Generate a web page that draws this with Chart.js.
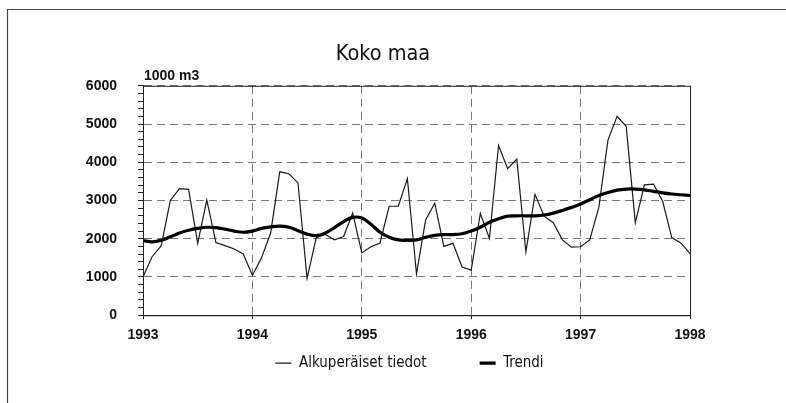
<!DOCTYPE html>
<html>
<head>
<meta charset="utf-8">
<script src="https://cdn.jsdelivr.net/npm/chart.js@4.4.1/dist/chart.umd.min.js"></script>
<style>
  html, body { margin: 0; padding: 0; background: #fff; }
  #wrap { width: 786px; height: 403px; }
</style>
</head>
<body>
<div id="wrap"><canvas id="chart" width="786" height="403"></canvas></div>
<script>
// monthly values, Jan 1993 .. Jan 1998 (1000 m3)
const startYear = 1993;
const endYear = 1998;
const original = [
  1000, 1530, 1820, 3000, 3310, 3290, 1880, 3010, 1900, 1820, 1730, 1600, // 1993
  1040, 1500, 2150, 3750, 3700, 3460, 960, 2030, 2110, 1970, 2060, 2670,   // 1994
  1630, 1790, 1890, 2850, 2850, 3570, 1080, 2490, 2930, 1800, 1880, 1260,  // 1995
  1180, 2660, 2010, 4440, 3830, 4080, 1660, 3160, 2590, 2420, 1970, 1780,  // 1996
  1790, 1970, 2820, 4580, 5200, 4940, 2420, 3410, 3430, 2980, 2030, 1890,  // 1997
  1610                                                                     // 1998
];
const trend = [
  1950, 1920, 1960, 2050, 2150, 2220, 2270, 2300, 2290, 2250, 2200, 2170,
  2200, 2270, 2310, 2330, 2300, 2210, 2120, 2080, 2150, 2290, 2450, 2560,
  2540, 2380, 2170, 2040, 1970, 1960, 1970, 2040, 2090, 2110, 2110, 2130,
  2200, 2300, 2430, 2520, 2590, 2600, 2600, 2600, 2620, 2670, 2740, 2820,
  2910, 3020, 3130, 3210, 3270, 3300, 3300, 3280, 3240, 3200, 3170, 3150,
  3130
];
const seriesNames = ['Alkuperäiset tiedot', 'Trendi'];
const chartTitle = 'Koko maa';
const unitLabel = '1000 m3';

const tickFont = "'Liberation Sans', Arial, sans-serif";
const condensed = "'DejaVu Sans Condensed', 'Liberation Sans', sans-serif";

const toPoints = arr => arr.map((v, i) => ({ x: startYear + i / 12, y: v }));

// outer frame + plot box + unit text
const decorations = {
  id: 'decorations',
  beforeDraw(chart) {
    const ctx = chart.ctx;
    ctx.save();
    ctx.strokeStyle = '#444';
    ctx.lineWidth = 1.2;
    ctx.beginPath();
    ctx.moveTo(7.5, chart.height);
    ctx.lineTo(7.5, 9.5);
    ctx.lineTo(chart.width, 9.5);
    ctx.stroke();
    ctx.restore();
  },
  afterDraw(chart) {
    const { ctx, chartArea: a } = chart;
    ctx.save();
    ctx.strokeStyle = '#222';
    ctx.lineWidth = 1;
    ctx.strokeRect(a.left + 0.5, a.top + 0.5, a.right - a.left, a.bottom - a.top);
    ctx.fillStyle = '#111';
    ctx.font = 'bold 14px ' + tickFont;
    ctx.textBaseline = 'alphabetic';
    ctx.fillText(unitLabel, a.left + 1, a.top - 6);
    ctx.restore();
  }
};

// pull the legend up next to the x axis labels
const legendLift = {
  id: 'legendLift',
  afterLayout(chart) {
    const l = chart.legend;
    const dy = (chart.chartArea.bottom - 12.5) - l.top;
    l.top += dy;
    l.bottom += dy;
    l.left -= 7;
    l.right -= 7;
  }
};

new Chart(document.getElementById('chart'), {
  type: 'line',
  data: {
    datasets: [
      {
        label: seriesNames[0],
        data: toPoints(original),
        borderColor: '#1a1a1a',
        backgroundColor: '#1a1a1a',
        borderWidth: 1.2,
        pointRadius: 0,
        pointStyle: 'line',
        tension: 0,
        order: 1
      },
      {
        label: seriesNames[1],
        data: toPoints(trend),
        borderColor: '#000',
        backgroundColor: '#000',
        borderWidth: 3.2,
        pointRadius: 0,
        pointStyle: 'line',
        tension: 0.4,
        order: 0
      }
    ]
  },
  options: {
    responsive: false,
    animation: false,
    layout: { padding: { left: 76, right: 96, top: 0, bottom: -27 } },
    scales: {
      x: {
        type: 'linear',
        min: startYear,
        max: endYear,
        ticks: {
          stepSize: 1,
          maxRotation: 0,
          padding: 8,
          color: '#111',
          font: { family: tickFont, size: 14, weight: 'bold' },
          callback: v => String(v)
        },
        grid: {
          color: '#777',
          tickColor: '#222',
          tickLength: 4,
          lineWidth: 1
        },
        border: { display: true, color: '#222', dash: [8, 5] }
      },
      y: {
        min: 0,
        max: 6000,
        afterFit: s => { s.width = 67; },
        ticks: {
          stepSize: 200,
          autoSkip: false,
          maxTicksLimit: 40,
          padding: 21,
          color: '#111',
          font: { family: tickFont, size: 14, weight: 'bold' },
          callback: v => (v % 1000 === 0 ? String(v) : '')
        },
        grid: {
          color: c => (c.tick && c.tick.value % 1000 === 0 ? '#777' : 'transparent'),
          tickColor: '#222',
          tickLength: 5,
          lineWidth: 1
        },
        border: { display: true, color: '#222', dash: [8, 5] }
      }
    },
    plugins: {
      title: {
        display: true,
        text: chartTitle,
        color: '#111',
        font: { family: condensed, size: 21.5, weight: 'normal', lineHeight: 1.2 },
        padding: { top: 42, bottom: 18 }
      },
      legend: {
        display: true,
        position: 'bottom',
        fullSize: false,
        labels: {
          usePointStyle: true,
          pointStyleWidth: 16,
          padding: 53,
          color: '#111',
          font: { family: condensed, size: 15 },
          sort: (a, b) => a.datasetIndex - b.datasetIndex
        }
      },
      tooltip: { enabled: false }
    }
  },
  plugins: [decorations, legendLift]
});
</script>
</body>
</html>
